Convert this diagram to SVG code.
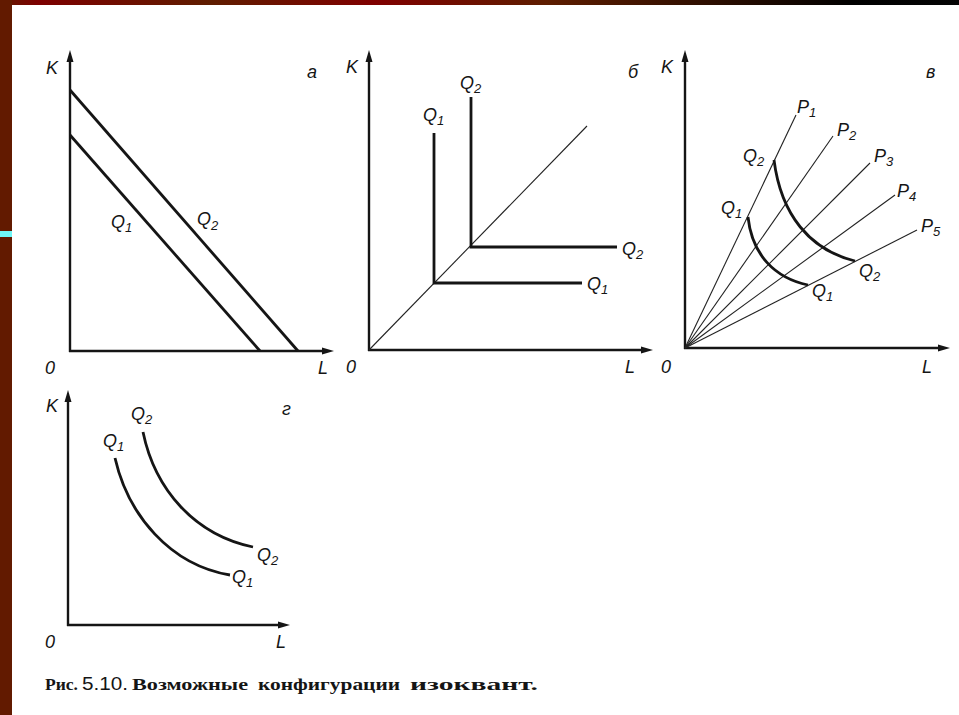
<svg xmlns="http://www.w3.org/2000/svg" width="959" height="715" viewBox="0 0 959 715">
<defs>
<linearGradient id="topbar" x1="0" y1="0" x2="959" y2="0" gradientUnits="userSpaceOnUse">
<stop offset="0" stop-color="#621a00"/>
<stop offset="0.04" stop-color="#7d0000"/>
<stop offset="0.22" stop-color="#5f1d00"/>
<stop offset="0.39" stop-color="#800000"/>
<stop offset="0.57" stop-color="#5e1d00"/>
<stop offset="0.75" stop-color="#2a0d00"/>
<stop offset="0.89" stop-color="#000000"/>
<stop offset="1" stop-color="#050505"/>
</linearGradient>
</defs>
<style>
.axis{stroke:#151515;stroke-width:2.4;fill:none}
.thick{stroke:#151515;stroke-width:2.8;fill:none}
.thin{stroke:#222;stroke-width:1.1;fill:none}
.head{fill:#151515;stroke:none}
.lbl{font-family:"Liberation Sans",Arial,sans-serif;font-style:italic;font-size:18px;fill:#151515}
.sub{font-size:13px}
.cap{font-family:"Liberation Serif","Times New Roman",serif;font-weight:bold;font-size:17px;fill:#151515}
</style>
<rect x="0" y="0" width="959" height="715" fill="#ffffff"/>
<rect x="0" y="0" width="959" height="5" fill="url(#topbar)"/>
<rect x="0" y="0" width="12" height="715" fill="#621a00"/>
<rect x="0" y="231" width="12" height="6" fill="#6ff7f7"/>

<g id="panel-a">
<line class="axis" x1="70" y1="352" x2="70" y2="58"/>
<line class="axis" x1="69" y1="351" x2="326" y2="351"/>
<polygon class="head" points="70,50 66.5,62 73.5,62"/>
<polygon class="head" points="334,351 322,347.5 322,354.5"/>
<line class="thick" x1="70" y1="90" x2="298" y2="351"/>
<line class="thick" x1="70" y1="135" x2="260" y2="351"/>
<text class="lbl" x="46" y="74">K</text>
<text class="lbl" x="307" y="78">а</text>
<text class="lbl" x="111" y="228">Q<tspan class="sub" dy="4">1</tspan></text>
<text class="lbl" x="197" y="225">Q<tspan class="sub" dy="5">2</tspan></text>
<text class="lbl" x="45" y="374">0</text>
<text class="lbl" x="318" y="374">L</text>
</g>

<g id="panel-b">
<line class="axis" x1="369" y1="351" x2="369" y2="58"/>
<line class="axis" x1="368" y1="350" x2="645" y2="350"/>
<polygon class="head" points="369,50 365.5,62 372.5,62"/>
<polygon class="head" points="653,350 641,346.5 641,353.5"/>
<line class="thin" x1="369" y1="350" x2="587" y2="126"/>
<polyline class="thick" points="434,133 434,283 582,283"/>
<polyline class="thick" points="471,97 471,247 617,247"/>
<text class="lbl" x="423" y="121">Q<tspan class="sub" dy="4">1</tspan></text>
<text class="lbl" x="460" y="89">Q<tspan class="sub" dy="4">2</tspan></text>
<text class="lbl" x="622" y="255">Q<tspan class="sub" dy="4">2</tspan></text>
<text class="lbl" x="587" y="290">Q<tspan class="sub" dy="4">1</tspan></text>
<text class="lbl" x="346" y="73">K</text>
<text class="lbl" x="628" y="78">б</text>
<text class="lbl" x="346" y="373">0</text>
<text class="lbl" x="625" y="373">L</text>
</g>

<g id="panel-v">
<line class="axis" x1="685" y1="349" x2="685" y2="58"/>
<line class="axis" x1="684" y1="348" x2="942" y2="348"/>
<polygon class="head" points="685,50 681.5,62 688.5,62"/>
<polygon class="head" points="950,348 938,344.5 938,351.5"/>
<line class="thin" x1="685" y1="348" x2="796" y2="115"/>
<line class="thin" x1="685" y1="348" x2="833" y2="136"/>
<line class="thin" x1="685" y1="348" x2="870" y2="163"/>
<line class="thin" x1="685" y1="348" x2="895" y2="195"/>
<line class="thin" x1="685" y1="348" x2="917" y2="230"/>
<path class="thick" d="M774,160 C781,215 810,250 855,261"/>
<path class="thick" d="M748,217 C752,255 775,278 808,285"/>
<text class="lbl" x="797" y="113">P<tspan class="sub" dy="4">1</tspan></text>
<text class="lbl" x="837" y="136">P<tspan class="sub" dy="4">2</tspan></text>
<text class="lbl" x="874" y="162">P<tspan class="sub" dy="4">3</tspan></text>
<text class="lbl" x="897" y="197">P<tspan class="sub" dy="4">4</tspan></text>
<text class="lbl" x="921" y="232">P<tspan class="sub" dy="4">5</tspan></text>
<text class="lbl" x="743" y="162">Q<tspan class="sub" dy="4">2</tspan></text>
<text class="lbl" x="721" y="214">Q<tspan class="sub" dy="4">1</tspan></text>
<text class="lbl" x="859" y="277">Q<tspan class="sub" dy="4">2</tspan></text>
<text class="lbl" x="812" y="297">Q<tspan class="sub" dy="4">1</tspan></text>
<text class="lbl" x="661" y="73">K</text>
<text class="lbl" x="926" y="78">в</text>
<text class="lbl" x="661" y="373">0</text>
<text class="lbl" x="922" y="373">L</text>
</g>

<g id="panel-g">
<line class="axis" x1="68" y1="626" x2="68" y2="398"/>
<line class="axis" x1="67" y1="625" x2="282" y2="625"/>
<polygon class="head" points="68,390 64.5,402 71.5,402"/>
<polygon class="head" points="290,625 278,621.5 278,628.5"/>
<path class="thick" d="M115,458 C128,515 170,565 230,575"/>
<path class="thick" d="M143,432 C155,490 195,535 253,547"/>
<text class="lbl" x="103" y="447">Q<tspan class="sub" dy="4">1</tspan></text>
<text class="lbl" x="131" y="420">Q<tspan class="sub" dy="4">2</tspan></text>
<text class="lbl" x="257" y="561">Q<tspan class="sub" dy="4">2</tspan></text>
<text class="lbl" x="232" y="583">Q<tspan class="sub" dy="4">1</tspan></text>
<text class="lbl" x="46" y="412">K</text>
<text class="lbl" x="282" y="415">г</text>
<text class="lbl" x="45" y="648">0</text>
<text class="lbl" x="276" y="648">L</text>
</g>

<g id="caption">
<text class="cap" x="45" y="690" textLength="33" lengthAdjust="spacingAndGlyphs">Рис.</text>
<text x="82" y="690" font-family="Liberation Sans, Arial, sans-serif" font-size="19" fill="#151515" textLength="46" lengthAdjust="spacingAndGlyphs">5.10.</text>
<text class="cap" x="132" y="690" textLength="116" lengthAdjust="spacingAndGlyphs">Возможные</text>
<text class="cap" x="258" y="690" textLength="142" lengthAdjust="spacingAndGlyphs">конфигурации</text>
<text class="cap" x="410" y="690" textLength="128" lengthAdjust="spacingAndGlyphs">изоквант.</text>
</g>
</svg>
